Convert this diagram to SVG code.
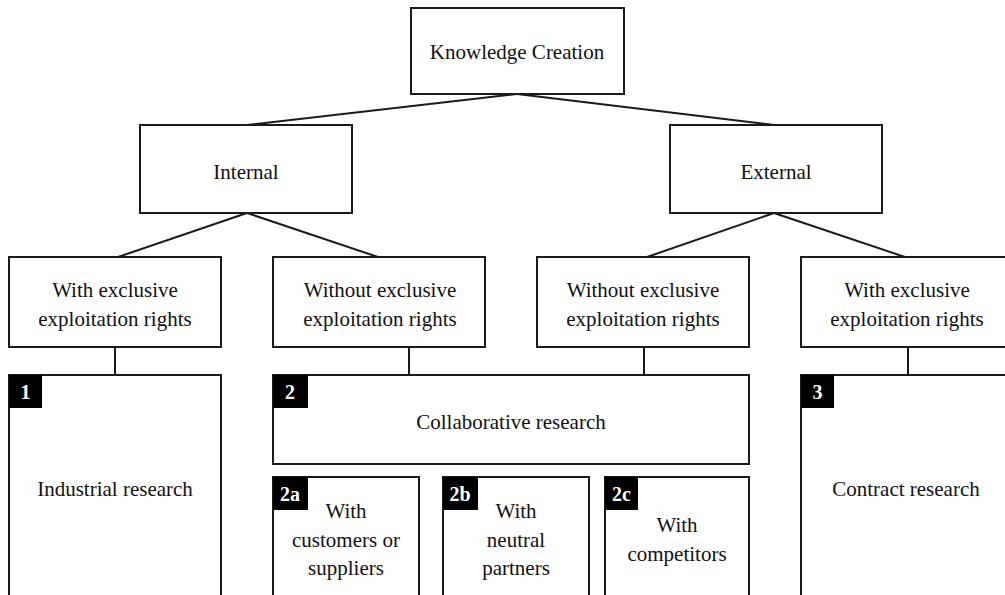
<svg xmlns="http://www.w3.org/2000/svg" width="1005" height="595" viewBox="0 0 1005 595">
  <style>
    .box { fill: #ffffff; stroke: #1a1a1a; stroke-width: 2; }
    .link { stroke: #1a1a1a; stroke-width: 2; fill: none; }
    .lbl { font-family: "Liberation Serif", "Times New Roman", serif; font-size: 21px; fill: #111111; text-anchor: middle; }
    .tag { fill: #000000; }
    .num { font-family: "Liberation Serif", "Times New Roman", serif; font-size: 20px; font-weight: bold; fill: #ffffff; text-anchor: middle; }
  </style>
  <rect width="1005" height="595" fill="#ffffff"/>

  <!-- connectors -->
  <g id="connectors">
    <line class="link" x1="517" y1="94" x2="247" y2="125"/>
    <line class="link" x1="517" y1="94" x2="774" y2="125"/>
    <line class="link" x1="247" y1="213" x2="118" y2="257"/>
    <line class="link" x1="247" y1="213" x2="378" y2="257"/>
    <line class="link" x1="774" y1="213" x2="647" y2="257"/>
    <line class="link" x1="774" y1="213" x2="905" y2="257"/>
    <line class="link" x1="115" y1="347" x2="115" y2="375"/>
    <line class="link" x1="409" y1="347" x2="409" y2="375"/>
    <line class="link" x1="644" y1="347" x2="644" y2="375"/>
    <line class="link" x1="908" y1="347" x2="908" y2="375"/>
  </g>

  <!-- root -->
  <g id="knowledge-creation">
    <rect class="box" x="411" y="8" width="213" height="86"/>
    <text class="lbl" x="517" y="59">Knowledge Creation</text>
  </g>

  <!-- second level -->
  <g id="internal">
    <rect class="box" x="140" y="125" width="212" height="88"/>
    <text class="lbl" x="246" y="179">Internal</text>
  </g>
  <g id="external">
    <rect class="box" x="670" y="125" width="212" height="88"/>
    <text class="lbl" x="776" y="179">External</text>
  </g>

  <!-- third level -->
  <g id="internal-exclusive">
    <rect class="box" x="9" y="257" width="212" height="90"/>
    <text class="lbl" x="115" y="297">With exclusive</text>
    <text class="lbl" x="115" y="326">exploitation rights</text>
  </g>
  <g id="internal-nonexclusive">
    <rect class="box" x="273" y="257" width="212" height="90"/>
    <text class="lbl" x="380" y="297">Without exclusive</text>
    <text class="lbl" x="380" y="326">exploitation rights</text>
  </g>
  <g id="external-nonexclusive">
    <rect class="box" x="537" y="257" width="212" height="90"/>
    <text class="lbl" x="643" y="297">Without exclusive</text>
    <text class="lbl" x="643" y="326">exploitation rights</text>
  </g>
  <g id="external-exclusive">
    <rect class="box" x="801" y="257" width="212" height="90"/>
    <text class="lbl" x="907" y="297">With exclusive</text>
    <text class="lbl" x="907" y="326">exploitation rights</text>
  </g>

  <!-- research types -->
  <g id="industrial-research">
    <rect class="box" x="9" y="375" width="212" height="240"/>
    <rect class="tag" x="9" y="375" width="33" height="33"/>
    <text class="num" x="25.5" y="399">1</text>
    <text class="lbl" x="115" y="496">Industrial research</text>
  </g>
  <g id="collaborative-research">
    <rect class="box" x="273" y="375" width="476" height="89"/>
    <rect class="tag" x="273" y="375" width="35" height="33"/>
    <text class="num" x="290" y="399">2</text>
    <text class="lbl" x="511" y="429">Collaborative research</text>
  </g>
  <g id="with-customers">
    <rect class="box" x="273" y="477" width="146" height="140"/>
    <rect class="tag" x="273" y="477" width="35" height="33"/>
    <text class="num" x="290" y="501">2a</text>
    <text class="lbl" x="346" y="518">With</text>
    <text class="lbl" x="346" y="547">customers or</text>
    <text class="lbl" x="346" y="575">suppliers</text>
  </g>
  <g id="with-neutral">
    <rect class="box" x="443" y="477" width="146" height="140"/>
    <rect class="tag" x="443" y="477" width="35" height="33"/>
    <text class="num" x="460" y="501">2b</text>
    <text class="lbl" x="516" y="518">With</text>
    <text class="lbl" x="516" y="547">neutral</text>
    <text class="lbl" x="516" y="575">partners</text>
  </g>
  <g id="with-competitors">
    <rect class="box" x="605" y="477" width="144" height="140"/>
    <rect class="tag" x="605" y="477" width="33" height="33"/>
    <text class="num" x="621.5" y="501">2c</text>
    <text class="lbl" x="677" y="532">With</text>
    <text class="lbl" x="677" y="561">competitors</text>
  </g>
  <g id="contract-research">
    <rect class="box" x="801" y="375" width="212" height="240"/>
    <rect class="tag" x="801" y="375" width="33" height="33"/>
    <text class="num" x="817.5" y="399">3</text>
    <text class="lbl" x="906" y="496">Contract research</text>
  </g>
</svg>
